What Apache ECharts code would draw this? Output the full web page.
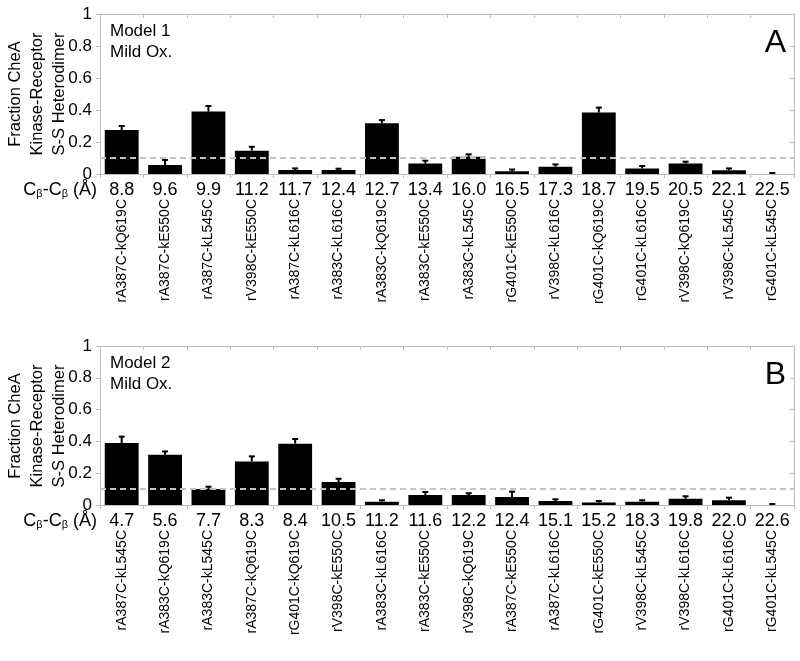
<!DOCTYPE html>
<html><head><meta charset="utf-8">
<script src="https://cdn.jsdelivr.net/npm/echarts@6/dist/echarts.min.js"></script>
<style>html,body{margin:0;padding:0;background:#fff}#c{width:800px;height:661px}</style>
</head><body><div id="c"></div>
<script>
var namesA = ['rA387C-kQ619C','rA387C-kE550C','rA387C-kL545C','rV398C-kE550C','rA387C-kL616C','rA383C-kL616C','rA383C-kQ619C','rA383C-kE550C','rA383C-kL545C','rG401C-kE550C','rV398C-kL616C','rG401C-kQ619C','rG401C-kL616C','rV398C-kQ619C','rV398C-kL545C','rG401C-kL545C'];
var distA = ['8.8','9.6','9.9','11.2','11.7','12.4','12.7','13.4','16.0','16.5','17.3','18.7','19.5','20.5','22.1','22.5'];
var valsA = [0.275,0.056,0.39,0.146,0.025,0.025,0.317,0.066,0.108,0.017,0.046,0.385,0.035,0.066,0.023,0.0];
var errA  = [0.300,0.088,0.425,0.170,0.035,0.033,0.337,0.083,0.123,0.028,0.060,0.415,0.050,0.077,0.035,0.006];

var namesB = ['rA387C-kL545C','rA383C-kQ619C','rA383C-kL545C','rA387C-kQ619C','rG401C-kQ619C','rV398C-kE550C','rA383C-kL616C','rA383C-kE550C','rV398C-kQ619C','rA387C-kE550C','rA387C-kL616C','rG401C-kE550C','rV398C-kL545C','rV398C-kL616C','rG401C-kL616C','rG401C-kL545C'];
var distB = ['4.7','5.6','7.7','8.3','8.4','10.5','11.2','11.6','12.2','12.4','15.1','15.2','18.3','19.8','22.0','22.6'];
var valsB = [0.39,0.316,0.10,0.274,0.386,0.144,0.021,0.063,0.063,0.05,0.025,0.015,0.021,0.04,0.03,0.0];
var errB  = [0.43,0.337,0.115,0.306,0.415,0.165,0.030,0.082,0.074,0.084,0.036,0.025,0.030,0.055,0.046,0.006];

var threshold = 0.1;

var FONT = 'Liberation Sans, Arial, Helvetica, sans-serif';
var AX = '#bdbdbd';
var chart = echarts.init(document.getElementById('c'), null, {renderer: 'canvas'});

function gridDef(top, h) { return {left: 100, right: 6, top: top, height: h, containLabel: false}; }

function xAxes(gi, dist, names) {
  return [
    {type: 'category', gridIndex: gi, data: dist, position: 'bottom',
     axisLine: {lineStyle: {color: AX, width: 1}}, axisTick: {show: true, length: 4, inside: false, lineStyle: {color: AX}},
     axisLabel: {interval: 0, color: '#000', fontSize: 18, fontFamily: FONT, margin: 7}},
    {type: 'category', gridIndex: gi, data: names, position: 'bottom',
     axisLine: {show: false}, axisTick: {show: false},
     axisLabel: {interval: 0, rotate: 90, color: '#000', fontSize: 14, fontFamily: FONT, margin: 25}},
    {type: 'category', gridIndex: gi, data: dist, position: 'top',
     axisLine: {lineStyle: {color: AX, width: 1}}, axisTick: {show: true, length: 4, inside: true, lineStyle: {color: AX}},
     axisLabel: {show: false}}
  ];
}
function yAxes(gi) {
  return [
    {type: 'value', gridIndex: gi, min: 0, max: 1, interval: 0.2, position: 'left',
     axisLine: {show: true, lineStyle: {color: AX}}, axisTick: {show: true, length: 4, lineStyle: {color: AX}},
     splitLine: {show: false},
     axisLabel: {color: '#000', fontSize: 17, fontFamily: FONT, margin: 8,
       formatter: function (v) { return (v === 0 || v === 1) ? String(v) : v.toFixed(1); }}},
    {type: 'value', gridIndex: gi, min: 0, max: 1, interval: 0.2, position: 'right',
     axisLine: {show: true, lineStyle: {color: AX}}, axisTick: {show: true, length: 4, inside: true, lineStyle: {color: AX}},
     splitLine: {show: false}, axisLabel: {show: false}}
  ];
}

function barSeries(xi, yi, vals) {
  return {type: 'bar', xAxisIndex: xi, yAxisIndex: yi, data: vals, barCategoryGap: '22%',
    itemStyle: {color: '#000'}, silent: true, animation: false,
    markLine: {silent: true, symbol: ['none', 'none'], label: {show: false}, animation: false, z: 10,
      lineStyle: {color: '#c4c4c4', type: [6, 4], width: 2},
      data: [{yAxis: threshold}]}};
}
function errSeries(xi, yi, vals, errs) {
  var d = vals.map(function (v, i) { return [i, v, errs[i]]; });
  return {type: 'custom', xAxisIndex: xi, yAxisIndex: yi, data: d, silent: true, animation: false, z: 5,
    renderItem: function (params, api) {
      var i = api.value(0), v = api.value(1), e = api.value(2);
      var p0 = api.coord([i, v]), p1 = api.coord([i, e]);
      var st = {stroke: '#000', lineWidth: 2};
      return {type: 'group', children: [
        {type: 'line', shape: {x1: p0[0], y1: p0[1], x2: p1[0], y2: p1[1]}, style: st},
        {type: 'line', shape: {x1: p1[0] - 3, y1: p1[1], x2: p1[0] + 3, y2: p1[1]}, style: st}
      ]};
    }};
}

function ytitle(cy) {
  return {type: 'text', x: 37, y: cy, rotation: Math.PI / 2,
    style: {text: 'Fraction CheA\nKinase-Receptor\nS-S Heterodimer', fontSize: 16.5, fontFamily: FONT, fill: '#000',
      align: 'center', verticalAlign: 'middle', lineHeight: 22}};
}
function cbLabel(cy) {
  return {type: 'text', x: 97, y: cy,
    style: {text: '{c|C}{s|β}{c|-C}{s|β}{c| (Å)}', align: 'right', verticalAlign: 'middle', fill: '#000',
      rich: {c: {fontSize: 18, fontFamily: FONT, fill: '#000'},
             s: {fontSize: 11, fontFamily: FONT, fill: '#000', verticalAlign: 'bottom', padding: [6, 0, 0, 0]}}}};
}
function modelText(y, t) {
  return {type: 'text', x: 110, y: y,
    style: {text: t + '\nMild Ox.', fontSize: 17, fontFamily: FONT, fill: '#000', lineHeight: 21, align: 'left', verticalAlign: 'top'}};
}
function letter(y, t) {
  return {type: 'text', x: 786, y: y,
    style: {text: t, fontSize: 32, fontFamily: FONT, fill: '#000', align: 'right', verticalAlign: 'top'}};
}

var option = {
  animation: false,
  backgroundColor: '#fff',
  grid: [gridDef(14, 160), gridDef(346, 159)],
  xAxis: xAxes(0, distA, namesA).concat(xAxes(1, distB, namesB)),
  yAxis: yAxes(0).concat(yAxes(1)),
  series: [
    barSeries(0, 0, valsA), errSeries(0, 0, valsA, errA),
    barSeries(3, 2, valsB), errSeries(3, 2, valsB, errB)
  ],
  graphic: [
    ytitle(94), ytitle(426),
    cbLabel(190), cbLabel(521),
    modelText(21, 'Model 1'), modelText(353, 'Model 2'),
    letter(27, 'A'), letter(359, 'B')
  ]
};
chart.setOption(option);
</script></body></html>
